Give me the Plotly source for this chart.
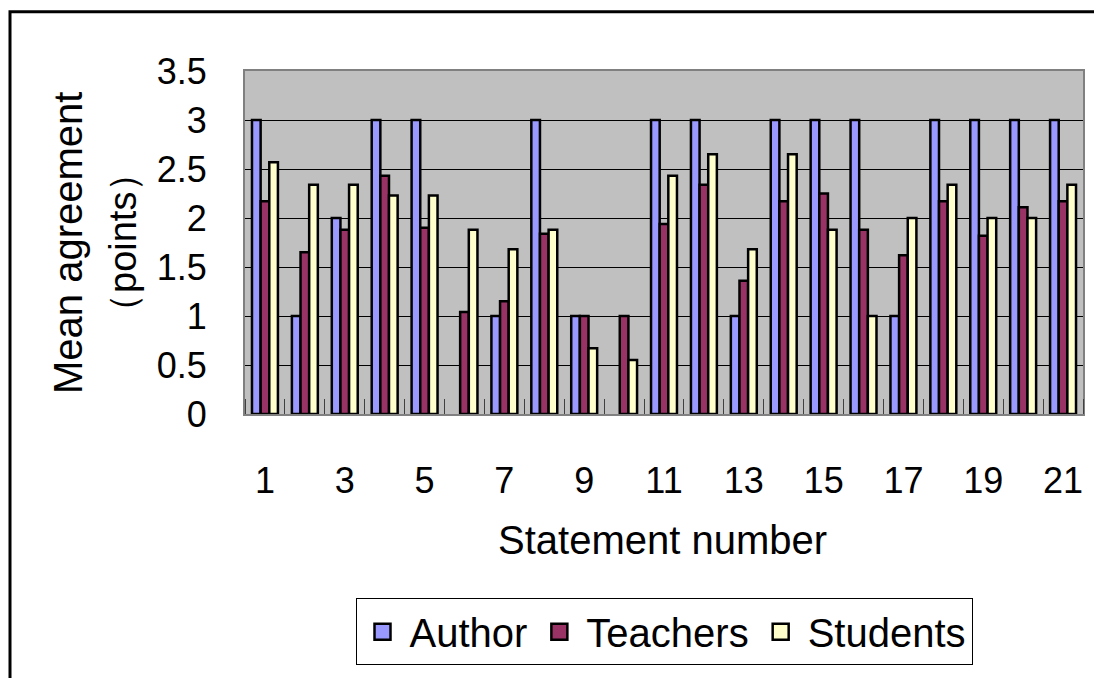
import plotly.graph_objects as go

statements = list(range(1, 22))
author = [3, 1, 2, 3, 3, 0, 1, 3, 1, 0, 3, 3, 1, 3, 3, 3, 1, 3, 3, 3, 3]
teachers = [2.17, 1.65, 1.88, 2.43, 1.90, 1.04, 1.15, 1.84, 1.0, 1.0, 1.94,
            2.34, 1.36, 2.17, 2.25, 1.88, 1.62, 2.17, 1.82, 2.11, 2.17]
students = [2.57, 2.34, 2.34, 2.23, 2.23, 1.88, 1.68, 1.88, 0.67, 0.55, 2.43,
            2.65, 1.68, 2.65, 1.88, 1.0, 2.0, 2.34, 2.0, 2.0, 2.34]
x_tick_labels = [1, 3, 5, 7, 9, 11, 13, 15, 17, 19, 21]
y_tick_vals = [0, 0.5, 1, 1.5, 2, 2.5, 3, 3.5]

FONT = "Liberation Sans"
OFF = 8  # page body margin
W, H = 1102 - OFF, 678 - OFF
L, R, T, B = 245 - OFF, 1083 - OFF, 71 - OFF, 418 - OFF

series = [("Author", author, "#9999FF"),
          ("Teachers", teachers, "#993366"),
          ("Students", students, "#FFFFCC")]

fig = go.Figure()
for name, vals, col in series:
    fig.add_trace(go.Bar(x=statements, y=vals, name=name, legendgroup=name, showlegend=False,
                         marker=dict(color=col,
                                     line=dict(color="black",
                                               width=[0 if v == 0 else 2.5 for v in vals]))))
# legend entries with larger square swatches
for name, vals, col in series:
    fig.add_trace(go.Scatter(x=[None], y=[None], mode="markers", name=name, legendgroup=name,
                             marker=dict(symbol="square", size=16, color=col,
                                         line=dict(color="black", width=2.5))))

fig.update_layout(
    width=W, height=H,
    margin=dict(l=L, r=W - R, t=T, b=H - B, pad=0),
    paper_bgcolor="white", plot_bgcolor="#C0C0C0",
    barmode="group", bargap=0.35, bargroupgap=0,
    font=dict(family=FONT, size=36, color="black"),
    showlegend=True,
    legend=dict(orientation="h", x=0.5, xanchor="center", y=-0.635, yanchor="middle",
                bordercolor="black", borderwidth=1, bgcolor="white",
                font=dict(size=40, family=FONT), itemwidth=44, itemsizing="trace",
                tracegroupgap=0),
)
fig.update_xaxes(
    range=[0.5, 21.5], tickmode="array", tickvals=x_tick_labels,
    ticktext=[str(v) for v in x_tick_labels], ticks="", ticklabelstandoff=34,
    showgrid=False, zeroline=False,
    showline=True, linecolor="#808080", linewidth=2, mirror=True,
    tickfont=dict(size=36),
    minor=dict(tickmode="linear", tick0=0.5, dtick=1, ticks="inside", ticklen=15,
               tickwidth=1, tickcolor="#404040", showgrid=False),
)
fig.update_yaxes(
    range=[0, 3.5], tickmode="array", tickvals=y_tick_vals,
    ticks="", ticklabelstandoff=29,
    showgrid=True, gridcolor="black", gridwidth=1, zeroline=False,
    showline=True, linecolor="#808080", linewidth=2, mirror=True,
    tickfont=dict(size=36),
)

pw, ph = R - L, B - T
def px(x):
    return (x - OFF - L) / pw
def py(y):
    return (B - (y - OFF)) / ph

fig.add_annotation(text="Statement number", x=px(662), y=py(545), xref="paper", yref="paper",
                   showarrow=False, font=dict(size=40), xanchor="center", yanchor="middle")
fig.add_annotation(text="Mean agreement", x=px(68), y=py(245), xref="paper", yref="paper",
                   showarrow=False, font=dict(size=40), textangle=-90,
                   xanchor="center", yanchor="middle")
fig.add_annotation(text="（points）", x=px(123), y=py(245), xref="paper", yref="paper",
                   showarrow=False, font=dict(size=38), textangle=-90,
                   xanchor="center", yanchor="middle")

fig.add_shape(type="rect", xref="paper", yref="paper",
              x0=px(10), x1=px(1112), y0=py(11), y1=py(700),
              line=dict(color="black", width=3), fillcolor="rgba(0,0,0,0)", layer="above")

fig.write_html("out.html")
